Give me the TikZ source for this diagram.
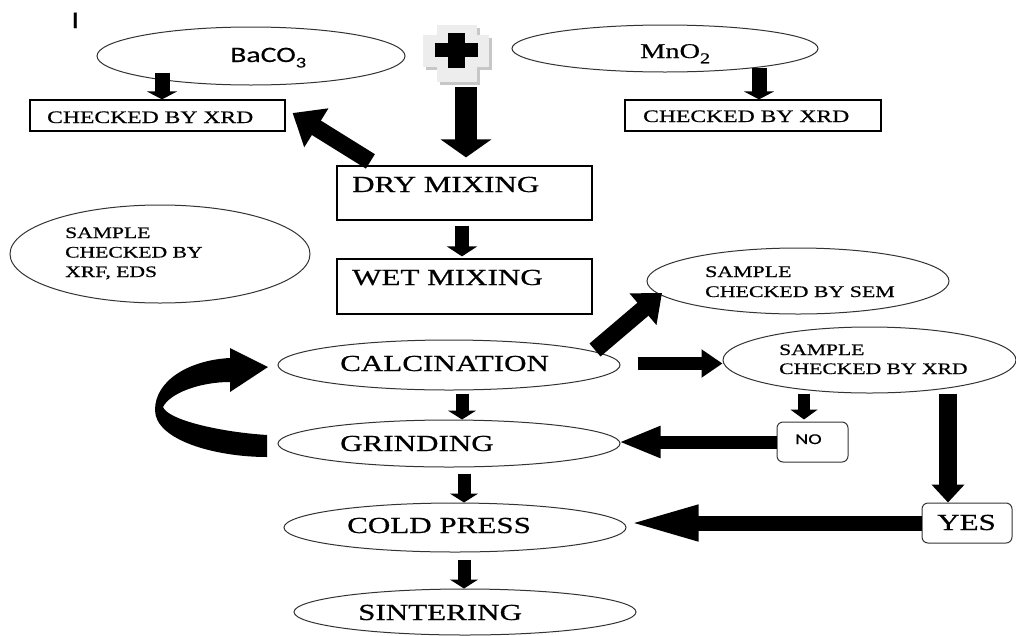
\documentclass[tikz,border=0pt]{standalone}
\usepackage{fontspec}
\setmainfont{Liberation Serif}[FakeStretch=1.35,FakeBold=0.6]
\newfontfamily\calib{Carlito}[FakeStretch=1.35,FakeBold=0.3]
\usetikzlibrary{shapes.geometric,arrows.meta}
\tikzset{
  ell/.style={draw=black!80, line width=1pt, ellipse, inner sep=0pt},
  box/.style={draw=black, line width=1.2pt, rectangle, inner sep=0pt},
  rbox/.style={draw=black!80, line width=1pt, rectangle, rounded corners=6pt, inner sep=0pt},
  txt/.style={anchor=base west, inner sep=0pt, align=left},
  barrow/.style n args={3}{line width=#1, -{Triangle[length=#2,width=#3]}},
}
\begin{document}
\begin{tikzpicture}[x=1pt,y=-1pt]
\fill[white] (0,0) rectangle (1016,635);
\useasboundingbox (0,0) rectangle (1016,635);

% shapes
\node[ell, minimum width=308pt, minimum height=58pt] (baco) at (251,56) {};
\node[ell, minimum width=306pt, minimum height=47pt] (mno) at (665,48.5) {};
\node[box, minimum width=255pt, minimum height=31pt] (lbox) at (157.5,115.5) {};
\node[box, minimum width=256pt, minimum height=31pt] (rbox) at (753,115.5) {};
\node[box, minimum width=255pt, minimum height=54pt] (dry) at (464.5,193) {};
\node[box, minimum width=255pt, minimum height=55pt] (wet) at (464.5,286.5) {};
\node[ell, minimum width=300pt, minimum height=98pt] (xrf) at (160,254) {};
\node[ell, minimum width=302pt, minimum height=66pt] (sem) at (798,281) {};
\node[ell, minimum width=342pt, minimum height=50pt] (calc) at (449,365) {};
\node[ell, minimum width=293pt, minimum height=66pt] (xrd) at (869.5,360) {};
\node[ell, minimum width=342pt, minimum height=47pt] (grind) at (449,443.5) {};
\node[rbox, minimum width=71pt, minimum height=40pt] (no) at (812.5,442) {};
\node[rbox, minimum width=90pt, minimum height=40pt] (yes) at (967,523) {};
\node[ell, minimum width=342pt, minimum height=49pt] (cold) at (455,527.5) {};
\node[ell, minimum width=342pt, minimum height=46pt] (sinter) at (465,612) {};
\node[minimum width=70pt, minimum height=60pt, inner sep=0pt] (plus) at (457,55) {};

% plus icon
\fill[black!22] (440,28) rectangle (480,85);
\fill[black!22] (426,38) rectangle (492,70);
\fill[black!7] (437,25) rectangle (477,82);
\fill[black!7] (423,35) rectangle (489,67);
\fill[black] (448,33) rectangle (465,68);
\fill[black] (435,43) rectangle (478,57);

% texts
\node[txt, font=\calib\fontsize{24}{28}\selectfont] (mark) at (71,28) {I};
\node[txt, font=\calib\fontsize{22}{26}\selectfont] (bacoT) at (230,62) {BaCO\raisebox{-0.25em}{\fontsize{15}{15}\selectfont 3}};
\node[txt, font=\fontsize{21}{25}\selectfont] (mnoT) at (640,58) {MnO\raisebox{-0.25em}{\fontsize{15}{15}\selectfont 2}};
\node[txt, font=\fontsize{17.5}{20}\selectfont] (lboxT) at (47,123) {CHECKED BY XRD};
\node[txt, font=\fontsize{17.5}{20}\selectfont] (rboxT) at (643,122) {CHECKED BY XRD};
\node[txt, font=\fontsize{23}{27}\selectfont] (dryT) at (352,192) {DRY MIXING};
\node[txt, font=\fontsize{23}{27}\selectfont] (wetT) at (352,285) {WET MIXING};
\node[txt, font=\fontsize{16}{19.5}\selectfont] (xrfT) at (65,277) {SAMPLE\\CHECKED BY\\XRF, EDS};
\node[txt, font=\fontsize{16.2}{20}\selectfont] (semT) at (705,297) {SAMPLE\\CHECKED BY SEM};
\node[txt, font=\fontsize{23}{27}\selectfont] (calcT) at (340,371) {CALCINATION};
\node[txt, font=\fontsize{16}{19}\selectfont] (xrdT) at (779,374) {SAMPLE\\CHECKED BY XRD};
\node[txt, font=\fontsize{23}{27}\selectfont] (grindT) at (340,451) {GRINDING};
\node[txt, font=\calib\fontsize{15}{18}\selectfont] (noT) at (795,444) {NO};
\node[txt, font=\fontsize{23}{27}\selectfont] (yesT) at (937,530) {YES};
\node[txt, font=\fontsize{23}{27}\selectfont] (coldT) at (347,533) {COLD PRESS};
\node[txt, font=\fontsize{23}{27}\selectfont] (sinterT) at (358,620) {SINTERING};

% arrows
\draw[barrow={15pt}{8pt}{30pt}] ([xshift=4.5pt,yshift=13pt]lbox.north |- baco.south) -- ([xshift=4.5pt]lbox.north);
\draw[barrow={15pt}{8pt}{30pt}] ([xshift=6pt,yshift=5pt]rbox.north |- mno.south) -- ([xshift=6pt]rbox.north);
\draw[barrow={22pt}{18pt}{50pt}] ([xshift=1.5pt,yshift=-2pt]dry.north |- plus.south) -- ([xshift=1.5pt,yshift=8pt]dry.north);
\draw[barrow={17pt}{28pt}{44pt}] ([xshift=34pt,yshift=4pt]dry.north west) -- ([xshift=7pt,yshift=2.5pt]lbox.east);
\draw[barrow={14pt}{10pt}{30pt}] ([xshift=-2.5pt,yshift=-5pt]dry.south) -- ([xshift=-2.5pt,yshift=2pt]wet.north);
\draw[barrow={17pt}{25pt}{40pt}] ([xshift=146pt,yshift=15pt]calc.center) -- ([xshift=-136pt,yshift=-12pt]sem.center);
\draw[barrow={13pt}{21pt}{27pt}] ([xshift=17pt,yshift=1.5pt]calc.east) -- ([yshift=-3.5pt]xrd.west);
\draw[barrow={12pt}{10pt}{27pt}] ([xshift=-8.5pt]no.north |- xrd.south) -- ([xshift=-8.5pt,yshift=2pt]no.north);
\draw[barrow={13pt}{42pt}{29pt}] (no.west) -- ([xshift=-2pt]grind.east |- no.west);
\draw[barrow={18pt}{18pt}{32pt}] ([xshift=-19pt]yes.north |- xrd.south) -- ([xshift=-19pt]yes.north);
\draw[barrow={15pt}{72pt}{32pt}] (yes.west) -- (cold.east |- yes.west);
\draw[barrow={13pt}{9pt}{28pt}] ([xshift=13pt,yshift=-3pt]calc.south) -- ([xshift=13pt]grind.north);
\draw[barrow={13pt}{9pt}{28pt}] ([xshift=15pt,yshift=-6pt]grind.south) -- ([xshift=9pt]cold.north);
\draw[barrow={13pt}{9pt}{28pt}] ([xshift=9pt,yshift=-7pt]cold.south) -- ([xshift=-1pt]sinter.north);

% curved return arrow
\fill (267,457) -- (267,435) .. controls (220,432) and (168,420) .. (163,407)
  .. controls (170,393) and (200,382) .. (230,382) -- (230,392) -- (268,367)
  -- (230,348) -- (230,358) .. controls (190,360) and (155,380) .. (155,410)
  .. controls (155,440) and (215,457) .. (267,457) -- cycle;
\end{tikzpicture}
\end{document}
